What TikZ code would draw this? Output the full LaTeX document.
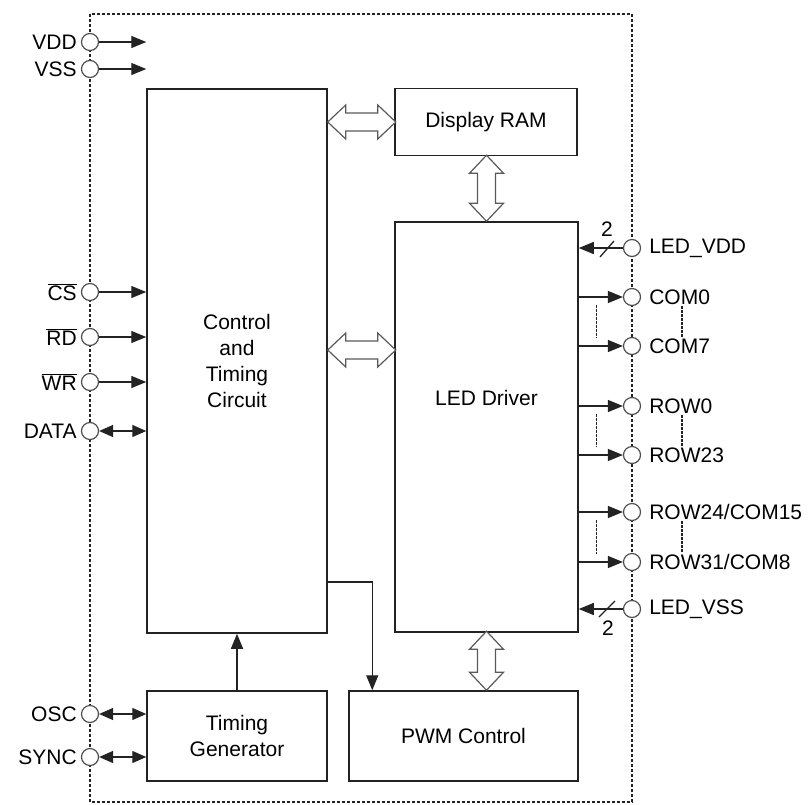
\documentclass[tikz,border=0pt]{standalone}
\usepackage{fontspec}
\setmainfont{Liberation Sans}
\usepackage{tikz}
\usetikzlibrary{arrows.meta, positioning, calc}
\definecolor{inkgray}{RGB}{35, 35, 35}
\definecolor{busgray}{RGB}{90, 90, 90}

\begin{document}
\begin{tikzpicture}[
    x=1pt, y=-1pt,
    font=\fontsize{21}{26}\selectfont,
    box/.style={rectangle, draw=inkgray, line width=1.5pt, align=center, inner sep=0pt},
    pad/.style={circle, draw=inkgray!80, fill=white, line width=1.2pt, minimum size=17pt, inner sep=0pt},
    lpad/.style={pad, label={[inner sep=4pt]left:#1}},
    rpad/.style={pad, label={[inner sep=2pt, label distance=6pt]right:#1}},
    sig/.style={-{Triangle[length=15pt, width=12pt]}, line width=1.3pt, inkgray},
    bisig/.style={{Triangle[length=14pt, width=12pt]}-{Triangle[length=14pt, width=12pt]}, line width=1.3pt, inkgray},
    frame/.style={draw=inkgray, line width=1.3pt, dash pattern=on 3pt off 2pt},
    dots/.style={inkgray, line width=1.3pt, dash pattern=on 2.5pt off 1.5pt},
    pics/bus/.style={code={
        \draw[busgray, line width=1.2pt, fill=white]
            (0,0) -- (18,-17) -- (18,-9) -- (#1-18,-9) -- (#1-18,-17) -- (#1,0)
            -- (#1-18,17) -- (#1-18,9) -- (18,9) -- (18,17) -- cycle;}}
]
\useasboundingbox (0,0) rectangle (812,804);
\draw[frame] (90,14) rectangle (632,802);

% blocks
\node[box, minimum width=180, minimum height=544] (ctrl) at (237,361) {Control\\and\\Timing\\Circuit};
\node[box, minimum width=182, minimum height=67] (ram) at (486,122) {Display RAM};
\node[box, minimum width=183, minimum height=410,
      label={[yshift=29pt]center:LED Driver}] (led) at (486.5,427) {};
\node[box, minimum width=180, minimum height=90] (tgen) at (237,736) {Timing\\Generator};
\node[box, minimum width=229, minimum height=90] (pwm) at (463.5,736) {PWM Control};

% left pins
\node[lpad=VDD] (pvdd) at (90,42) {};
\node[lpad=VSS] (pvss) at (90,69) {};
\node[lpad=$\overline{\mbox{CS}}$] (pcs) at (90,292) {};
\node[lpad=$\overline{\mbox{RD}}$] (prd) at (90,337) {};
\node[lpad=$\overline{\mbox{WR}}$] (pwr) at (90,382) {};
\node[lpad=DATA] (pdata) at (90,431) {};
\node[lpad=OSC] (posc) at (90,714) {};
\node[lpad=SYNC] (psync) at (90,757) {};

% right pins
\node[rpad=LED\_VDD] (pledvdd) at (632,248) {};
\node[rpad=COM0] (pcom0) at (632,297) {};
\node[rpad=COM7] (pcom7) at (632,346) {};
\node[rpad=ROW0] (prow0) at (632,406) {};
\node[rpad=ROW23] (prow23) at (632,455) {};
\node[rpad=ROW24/COM15] (prow24) at (632,512) {};
\node[rpad=ROW31/COM8] (prow31) at (632,562) {};
\node[rpad=LED\_VSS] (pledvss) at (632,609) {};

\foreach \p in {pvdd,pvss,pcs,prd,pwr}
    \draw[sig] (\p) -- (\p -| ctrl.west);
\draw[bisig] (pdata) -- (pdata -| ctrl.west);
\draw[bisig] (posc) -- (posc -| tgen.west);
\draw[bisig] (psync) -- (psync -| tgen.west);

\foreach \p in {pcom0,pcom7,prow0,prow23,prow24,prow31}
    \draw[sig] (\p -| led.east) -- (\p);
\foreach \a/\b in {pcom0/pcom7, prow0/prow23, prow24/prow31} {
    \draw[dots] ($(\a -| led.east)+(18,8)$) -- ($(\b -| led.east)+(18,-8)$);
    \draw[dots] ($(\a)+(50,9)$) -- ($(\b)+(50,-9)$);
}

\draw[sig] (pledvdd) -- (pledvdd -| led.east);
\draw[line width=1.3pt, inkgray] ($(pledvdd)+(-32,9)$) -- ++(14,-16);
\node at ($(pledvdd)+(-25,-19)$) {2};
\draw[sig] (pledvss) -- (pledvss -| led.east);
\draw[line width=1.3pt, inkgray] ($(pledvss)+(-33,8)$) -- ++(16,-16);
\node at ($(pledvss)+(-24,19)$) {2};

% internal paths
\draw[sig] (tgen.north) -- (ctrl.south);
\draw[sig] (ctrl.east |- 0,582) -| ($(pwm.north west)+(24,0)$);
\pic at (ctrl.east |- ram.west) {bus=68};
\pic at (ctrl.east |- 0,350) {bus=68};
\pic[rotate=90] at (led.north) {bus=66};
\pic[rotate=90] at (led.south |- pwm.north) {bus=59};
\end{tikzpicture}
\end{document}
